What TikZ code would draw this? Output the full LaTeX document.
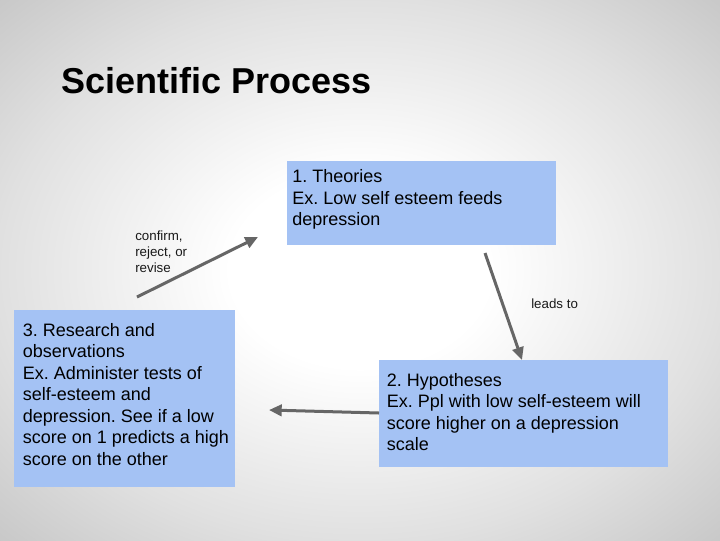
\documentclass[tikz,border=0pt]{standalone}
\usepackage{fontspec}
\setmainfont{Liberation Sans}
\usetikzlibrary{arrows.meta}
\definecolor{boxblue}{HTML}{A4C2F4}
\definecolor{arrowgray}{HTML}{666666}
\pgfdeclareradialshading{bgshade}{\pgfpoint{0bp}{0bp}}{color(0bp)=(white); color(9bp)=(white); color(25bp)=(gray!24); color(36bp)=(gray!44); color(50bp)=(gray!44)}
\frenchspacing
\begin{document}
\begin{tikzpicture}[x=0.75pt,y=-0.75pt,
  box/.style={fill=boxblue, draw=none, inner sep=0pt, anchor=north west},
  boxtext/.style={font=\fontsize{13.5pt}{16.1pt}\selectfont, align=left, anchor=base west, inner sep=0pt, text=black},
  lbl/.style={font=\fontsize{10pt}{11.8pt}\selectfont, align=left, anchor=base west, inner sep=0pt, text=black!90},
  arr/.style={draw=arrowgray, line width=2.25pt, -{Triangle[length=9.5pt,width=8.5pt]}}]
  \useasboundingbox (0,0) rectangle (720,540);
  \shade[shading=bgshade] (0,0) rectangle (720,540);

  \node[font=\fontsize{27pt}{32pt}\selectfont\bfseries, anchor=base west, inner sep=0pt, text=black] (title) at (61,93) {Scientific Process};

  \node[box, minimum width=201.75pt, minimum height=63pt] (b1) at (287,161) {};
  \node[box, minimum width=165.75pt, minimum height=132.75pt] (b3) at (14,310) {};
  \node[box, minimum width=216.75pt, minimum height=80.25pt] (b2) at (379,360) {};

  % base anchor = baseline of the last line
  \node[boxtext] (t1) at (292,225.5) {1. Theories\\Ex. Low self esteem feeds\\depression};
  \node[boxtext] (t3) at (22.5,465) {3. Research and\\observations\\Ex. Administer tests of\\self-esteem and\\depression. See if a low\\score on 1 predicts a high\\score on the other};
  \node[boxtext] (t2) at (386.5,450.5) {2. Hypotheses\\Ex. Ppl with low self-esteem will\\score higher on a depression\\scale};

  \node[lbl] (l1) at (135,272) {confirm,\\reject, or\\revise};
  \node[lbl] (l2) at (531,308) {leads to};

  \coordinate (a1s) at (137,297);
  \coordinate (a1e) at (258,237);
  \coordinate (a2s) at (485,253);
  \coordinate (a2e) at (522,360);
  \coordinate (a3s) at (379,413);
  \coordinate (a3e) at (269,410);

  \draw[arr] (a1s) -- (a1e);
  \draw[arr] (a2s) -- (a2e);
  \draw[arr] (a3s) -- (a3e);
\end{tikzpicture}
\end{document}
